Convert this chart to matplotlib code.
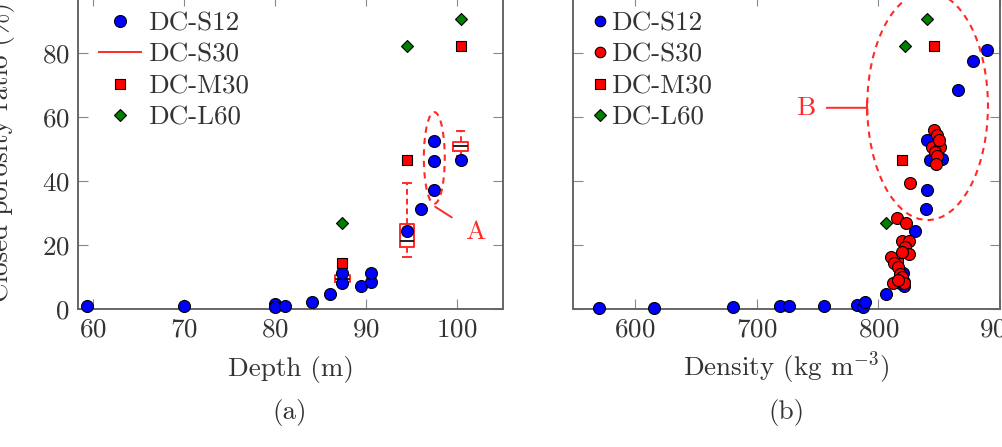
import matplotlib
matplotlib.use("Agg")
import matplotlib.pyplot as plt
from matplotlib.patches import Ellipse
from matplotlib.lines import Line2D

# ---- données (a) : profondeur ----
s12_depth = [59.3, 70.0, 80.0, 80.0, 81.1, 84.1, 86.0, 87.4, 87.4, 89.5, 90.6, 90.6,
             94.5, 96.0, 97.5, 97.5, 97.5, 100.4]
s12_ratio = [0.9, 0.9, 1.5, 0.5, 0.8, 2.3, 4.7, 8.0, 11.3, 7.2, 8.5, 11.3,
             24.3, 31.2, 37.2, 46.3, 52.5, 46.8]
m30_depth = [87.4, 94.5, 100.4]
m30_ratio = [14.5, 46.8, 82.5]
l60_depth = [87.4, 94.5, 100.4]
l60_ratio = [27.0, 82.2, 90.8]

# DC-S30 en boîtes à moustaches
box_pos = [87.4, 94.5, 100.4]
box_q1 = [8.3, 19.5, 49.5]
box_med = [9.5, 21.4, 51.0]
box_q3 = [10.5, 26.5, 52.3]
box_lo = [8.0, 16.3, 48.0]
box_hi = [11.0, 39.3, 55.6]

# ---- données (b) : densité ----
s12_density = [570.7, 615.6, 680.3, 719.0, 726.7, 755.3, 782.2, 787.0, 789.0, 806.2,
               820.8, 818.0, 819.5, 821.0, 820.0, 830.0, 838.8, 840.0, 842.4, 840.3,
               852.4, 865.2, 878.0, 889.0]
s12_ratio2 = [0.2, 0.3, 0.5, 0.9, 0.9, 0.9, 1.1, 0.5, 2.3, 4.7,
              7.2, 8.0, 11.3, 8.5, 11.3, 24.4, 31.2, 37.2, 46.6, 52.8,
              46.9, 68.6, 77.6, 81.0]
s30_density = [815.4, 823.0, 819.4, 825.0, 822.0, 825.0, 819.4, 810.4, 813.0, 816.3,
               817.6, 819.4, 811.8, 820.8, 815.9, 826.0, 846.0, 848.0, 843.8, 850.6,
               846.5, 848.0, 847.0, 850.0]
s30_ratio = [28.6, 26.8, 21.3, 21.3, 19.5, 17.2, 17.9, 16.2, 14.3, 13.0,
             11.1, 10.1, 8.2, 8.2, 9.1, 39.5, 56.0, 54.4, 50.7, 50.7,
             49.2, 47.8, 45.3, 52.8]
m30_density = [815.8, 819.2, 845.7]
m30_ratio2 = [14.3, 46.8, 82.5]
l60_density = [806.0, 822.0, 840.0]
l60_ratio2 = [27.0, 82.2, 90.8]

labels = ["DC-S12", "DC-S30", "DC-M30", "DC-L60"]
yticks = [0, 20, 40, 60, 80]

# =========================
# STYLE
# =========================
FS = 19.5
plt.rcParams["font.family"] = "cmr10"
plt.rcParams["mathtext.fontset"] = "cm"
plt.rcParams["axes.formatter.use_mathtext"] = True
plt.rcParams["font.size"] = FS

TXT = "#333333"
AXC = "#666666"
RED = "#ff2a2a"
BLUE = (0, 0, 1)
GREEN = (0, 0.5, 0)
ms = 8.6

fig = plt.figure(figsize=(10.03, 4.47), dpi=100)
ax1 = fig.add_axes([78 / 1003, 138 / 447, 425 / 1003, 313 / 447])
ax2 = fig.add_axes([573 / 1003, 138 / 447, 427 / 1003, 313 / 447])

for ax in (ax1, ax2):
    for sp in ax.spines.values():
        sp.set_color(AXC)
        sp.set_linewidth(1.4)
    ax.tick_params(direction="in", length=7, width=0.8, color="#888888",
                   top=True, right=True, labelcolor=TXT, labelsize=FS, pad=6)
    ax.set_ylim(0, 98)
    ax.set_yticks(yticks)

# =========================
# (a) PROFONDEUR
# =========================
ax1.set_xlim(58.35, 105.05)
ax1.set_xticks([60, 70, 80, 90, 100])

stats = []
for i in range(len(box_pos)):
    stats.append(dict(med=box_med[i], q1=box_q1[i], q3=box_q3[i],
                      whislo=box_lo[i], whishi=box_hi[i], fliers=[]))
ax1.bxp(stats, positions=box_pos, widths=1.6, manage_ticks=False,
        boxprops=dict(color=RED, linewidth=1.4),
        whiskerprops=dict(color=RED, linewidth=1.4, linestyle=(0, (3, 2))),
        capprops=dict(color=RED, linewidth=1.4),
        medianprops=dict(color="#222222", linewidth=1.4), zorder=2)

ax1.plot(s12_depth, s12_ratio, "o", ms=ms, mfc=BLUE, mec="black", mew=0.8,
         clip_on=False, zorder=3)
ax1.plot(m30_depth, m30_ratio, "s", ms=ms - 1.6, mfc="red", mec="black", mew=0.8,
         clip_on=False, zorder=3)
ax1.plot(l60_depth, l60_ratio, "D", ms=ms - 2.2, mfc=GREEN, mec="black", mew=0.8,
         clip_on=False, zorder=3)

ax1.add_patch(Ellipse((97.5, 47.3), 2.3, 28.7, fill=False, ec=RED, lw=1.5,
                      ls=(0, (3, 2.5)), zorder=4))
ax1.annotate("A", xy=(97.6, 32.0), xytext=(102.0, 24.0), color=RED, fontsize=FS,
             ha="center", va="center",
             arrowprops=dict(arrowstyle="-", color=RED, lw=1.4, shrinkA=9, shrinkB=0))

h1 = [Line2D([], [], ls="", marker="o", ms=ms, mfc=BLUE, mec="black", mew=0.8),
      Line2D([], [], color=RED, lw=1.4),
      Line2D([], [], ls="", marker="s", ms=ms - 1.6, mfc="red", mec="black", mew=0.8),
      Line2D([], [], ls="", marker="D", ms=ms - 2.2, mfc=GREEN, mec="black", mew=0.8)]
leg1 = ax1.legend(h1, labels, loc="upper left", bbox_to_anchor=(0.049, 0.95),
                  frameon=False, borderpad=0, borderaxespad=0, handlelength=1.55,
                  handletextpad=0.25, labelspacing=0.27, fontsize=FS)
for t in leg1.get_texts():
    t.set_color(TXT)

ax1.set_xlabel("Depth (m)", color=TXT, labelpad=11)
ax1.set_ylabel("Closed porosity ratio (%)", color=TXT)
ax1.yaxis.set_label_coords(-0.148, 0.5)

# =========================
# (b) DENSITÉ
# =========================
ax2.set_xlim(549, 900)
ax2.set_xticks([600, 700, 800, 900])
ax2.tick_params(labelleft=False)

ax2.plot(m30_density, m30_ratio2, "s", ms=ms - 1.6, mfc="red", mec="black", mew=0.8,
         clip_on=False, zorder=3)
ax2.plot(l60_density, l60_ratio2, "D", ms=ms - 2.2, mfc=GREEN, mec="black", mew=0.8,
         clip_on=False, zorder=3)
ax2.plot(s12_density, s12_ratio2, "o", ms=ms, mfc=BLUE, mec="black", mew=0.8,
         clip_on=False, zorder=3.2)
ax2.plot(s30_density, s30_ratio, "o", ms=ms, mfc="red", mec="black", mew=0.8,
         clip_on=False, zorder=3.4)

ax2.add_patch(Ellipse((840.5, 63.6), 99.2, 71.5, fill=False, ec=RED, lw=1.5,
                      ls=(0, (3, 2.5)), zorder=4))
ax2.annotate("B", xy=(790.9, 63.0), xytext=(740.5, 63.0), color=RED, fontsize=FS,
             ha="center", va="center",
             arrowprops=dict(arrowstyle="|-|, widthA=0, widthB=0.25", color=RED,
                             lw=1.4, shrinkA=6, shrinkB=0))

h2 = [Line2D([], [], ls="", marker="o", ms=ms - 1, mfc=BLUE, mec="black", mew=0.8),
      Line2D([], [], ls="", marker="o", ms=ms - 1, mfc="red", mec="black", mew=0.8),
      Line2D([], [], ls="", marker="s", ms=ms - 2, mfc="red", mec="black", mew=0.8),
      Line2D([], [], ls="", marker="D", ms=ms - 2.4, mfc=GREEN, mec="black", mew=0.8)]
leg2 = ax2.legend(h2, labels, loc="upper left", bbox_to_anchor=(0.045, 0.95),
                  frameon=False, borderpad=0, borderaxespad=0, handlelength=0.55,
                  handletextpad=0.15, labelspacing=0.27, fontsize=FS)
for t in leg2.get_texts():
    t.set_color(TXT)

ax2.set_xlabel("Density (kg m$^{-3}$)", color=TXT, labelpad=6)

# sous-légendes
fig.text(290 / 1003, 1 - 413 / 447, "(a)", ha="center", va="center", color=TXT, fontsize=FS)
fig.text(786 / 1003, 1 - 413 / 447, "(b)", ha="center", va="center", color=TXT, fontsize=FS)

fig.savefig("out.png", dpi=100)
